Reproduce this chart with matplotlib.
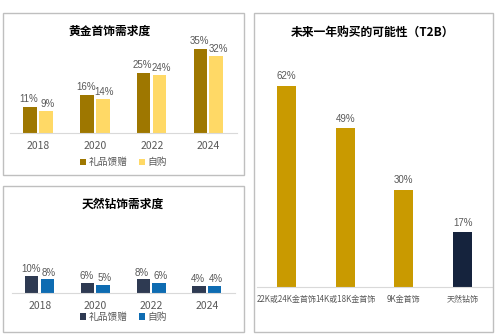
import matplotlib
matplotlib.use("Agg")
import matplotlib.pyplot as plt
from matplotlib.patches import Rectangle
import numpy as np

plt.rcParams['font.family'] = ['Noto Sans CJK SC', 'DejaVu Sans']

years = ['2018', '2020', '2022', '2024']
gold_gift = [11, 16, 25, 35]
gold_self = [9, 14, 24, 32]
dia_gift = [10, 6, 8, 4]
dia_self = [8, 5, 6, 4]
buy_cats = ['22K或24K金首饰', '14K或18K金首饰', '9K金首饰', '天然钻饰']
buy_vals = [62, 49, 30, 17]
legend_labels = ['礼品馈赠', '自购']

W, H = 500, 336
fig = plt.figure(figsize=(W / 100, H / 100), dpi=100)
fig.patch.set_facecolor('white')

def px_rect(x0, y0, x1, y1):
    return [x0 / W, 1 - y1 / H, (x1 - x0) / W, (y1 - y0) / H]

def border(x0, y0, x1, y1):
    l, b, w, h = px_rect(x0, y0, x1, y1)
    fig.patches.append(Rectangle((l, b), w, h, transform=fig.transFigure,
                                 fill=False, edgecolor='#bfbfbf', linewidth=1.0))

border(3, 13, 244, 175)
border(3, 186, 244, 332)
border(254, 13, 493, 332)

GRAY = '#595959'
NUMFONT = ['Liberation Sans Narrow', 'Liberation Sans', 'DejaVu Sans']

def style(ax):
    for s in ['top', 'right', 'left']:
        ax.spines[s].set_visible(False)
    ax.spines['bottom'].set_color('#d9d9d9')
    ax.spines['bottom'].set_linewidth(0.8)
    ax.set_yticks([])
    ax.tick_params(axis='x', length=0, colors=GRAY, labelsize=7.5, pad=6)
    ax.set_facecolor('none')

def grouped(ax, a, b, ca, cb, ymax):
    x = np.arange(len(years))
    w = 0.24
    b1 = ax.bar(x - 0.145, a, w, color=ca)
    b2 = ax.bar(x + 0.135, b, w, color=cb)
    for bars, vals, dx in ((b1, a, -0.02), (b2, b, 0.03)):
        for r, v in zip(bars, vals):
            ax.text(r.get_x() + r.get_width() / 2 + dx, v + ymax * 0.03, f'{v}%',
                    ha='center', va='bottom', fontsize=7, color=GRAY,
                    family=NUMFONT, clip_on=False)
    ax.set_xlim(-0.5, 3.5)
    ax.set_ylim(0, ymax)
    ax.set_xticks(x)
    ax.set_xticklabels(years)
    style(ax)
    return b1, b2

# Panel 1
ax1 = fig.add_axes(px_rect(10, 45, 237, 133))
g1, g2 = grouped(ax1, gold_gift, gold_self, '#9e7700', '#ffd966', 88 / 2.4)
fig.text(110 / W, 1 - 31 / H, '黄金首饰需求度', ha='center', va='center',
         fontsize=8.5, fontweight='bold', color='black')
ax1.legend([g1, g2], legend_labels, loc='center', bbox_to_anchor=(0.5, -0.33),
           ncol=2, frameon=False, fontsize=7, labelcolor=GRAY,
           handlelength=0.6, handleheight=0.6, handletextpad=0.3, columnspacing=1.2)

# Panel 2
ax2 = fig.add_axes(px_rect(12, 230, 235, 293))
d1, d2 = grouped(ax2, dia_gift, dia_self, '#2e3a52', '#0e6cb2', 63 / 1.7)
fig.text(123 / W, 1 - 204 / H, '天然钻饰需求度', ha='center', va='center',
         fontsize=8.5, fontweight='bold', color='black')
ax2.legend([d1, d2], legend_labels, loc='center', bbox_to_anchor=(0.5, -0.38),
           ncol=2, frameon=False, fontsize=7, labelcolor=GRAY,
           handlelength=0.6, handleheight=0.6, handletextpad=0.3, columnspacing=1.2)

# Panel 3
ax3 = fig.add_axes(px_rect(257, 80, 492, 287))
x = np.arange(len(buy_cats))
cols = ['#c99a00', '#c99a00', '#c99a00', '#15233d']
ymax3 = 207 / 3.25
bars = ax3.bar(x, buy_vals, 0.32, color=cols)
for r, v in zip(bars, buy_vals):
    ax3.text(r.get_x() + r.get_width() / 2, v + ymax3 * 0.02, f'{v}%',
             ha='center', va='bottom', fontsize=7, color=GRAY,
             family=NUMFONT, clip_on=False)
ax3.set_xlim(-0.5, 3.5)
ax3.set_ylim(0, ymax3)
ax3.set_xticks(x)
ax3.set_xticklabels(buy_cats)
style(ax3)
ax3.tick_params(axis='x', labelsize=5.8, pad=6)
fig.text(373 / W, 1 - 32 / H, '未来一年购买的可能性（T2B）', ha='center', va='center',
         fontsize=8.5, fontweight='bold', color='black')

fig.savefig('out.png', dpi=100, facecolor='white')
